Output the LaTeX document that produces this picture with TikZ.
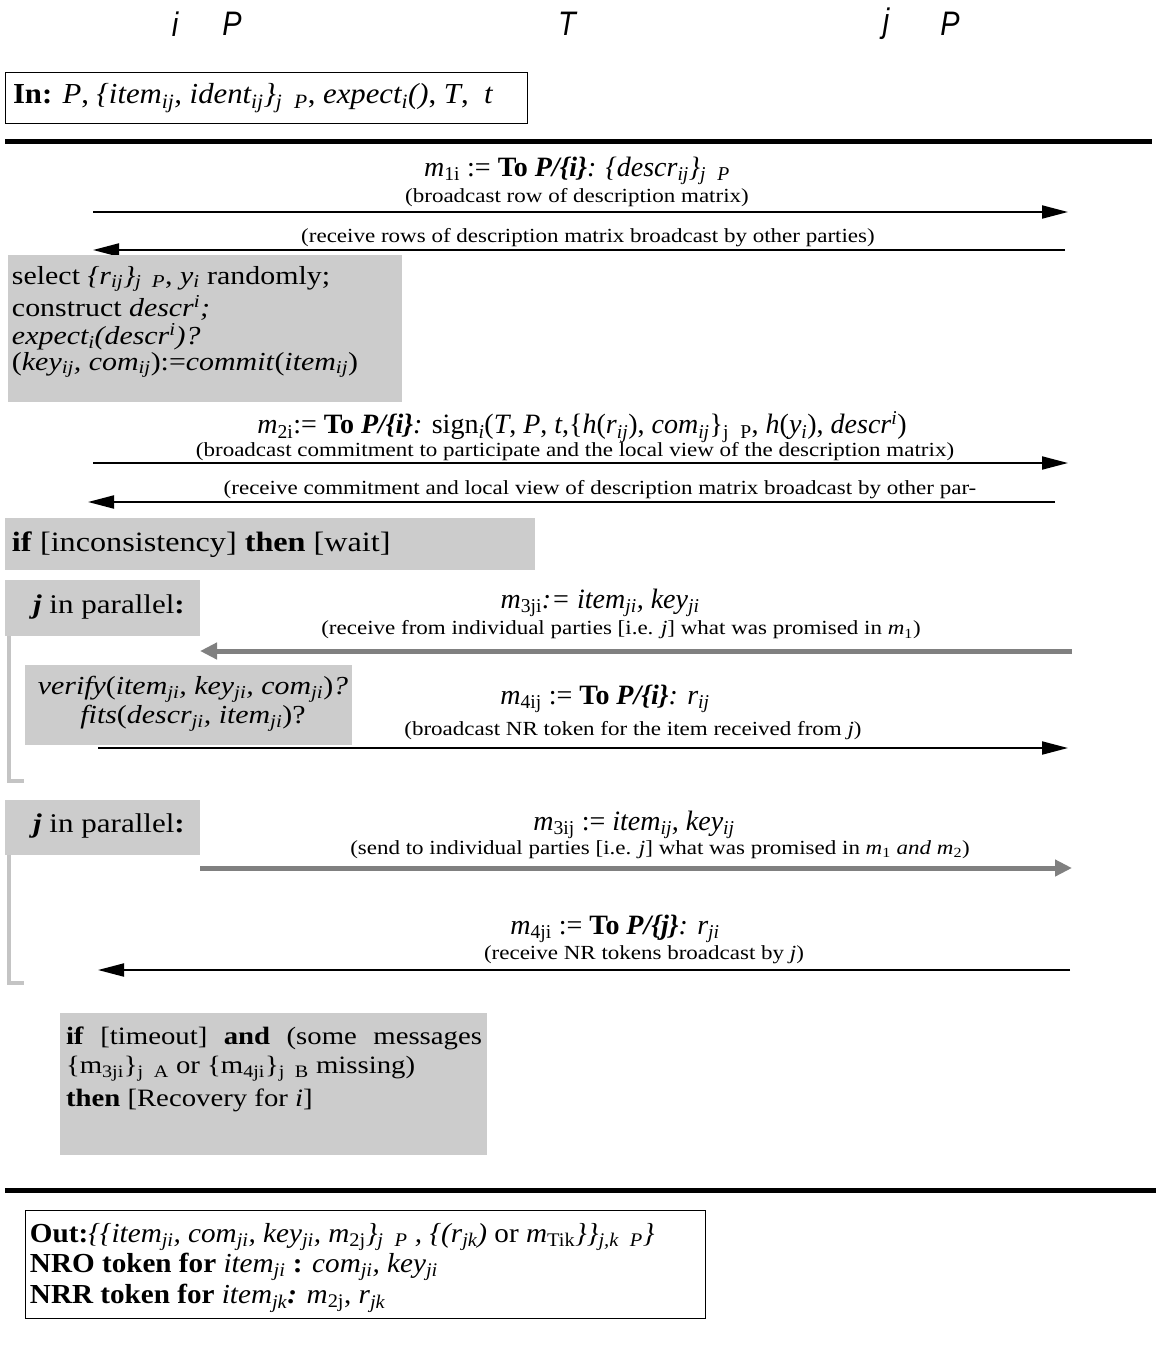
\documentclass[tikz,border=0pt]{standalone}
\usepackage{fontspec}
\setmainfont[FakeStretch=1.15]{Liberation Serif}
\newfontfamily\plainserif{Liberation Serif}
\newfontfamily\tallserif[FakeStretch=1.06]{Liberation Serif}
\newfontfamily\hdrfont[FakeStretch=0.85]{Liberation Sans}
\usetikzlibrary{arrows.meta}
\newcommand\lo[1]{\textsubscript{#1}}
\newcommand\hi[1]{\textsuperscript{#1}}
\newcommand\ingap{\hspace{0.6em}}
\definecolor{boxgrey}{HTML}{CCCCCC}
\definecolor{arrgrey}{HTML}{808080}
\definecolor{brgrey}{HTML}{C4C4C4}
\begin{document}
\begin{tikzpicture}[x=1pt,y=-1pt,
  txt/.style={inner sep=0pt, outer sep=0pt},
  hdr/.style={txt, font=\hdrfont\itshape\fontsize{34}{40}\selectfont},
  lbl/.style={txt, font=\plainserif\fontsize{28}{32}\selectfont},
  par/.style={txt, font=\fontsize{20}{24}\selectfont},
  body/.style={txt, font=\fontsize{26}{29}\selectfont, anchor=west},
  tall/.style={txt, font=\tallserif\fontsize{29}{30}\selectfont, anchor=west},
  outtxt/.style={txt, font=\tallserif\fontsize{27.5}{30}\selectfont, anchor=west},
  gbox/.style={fill=boxgrey, draw=none, inner sep=0pt},
  wbox/.style={draw=black, line width=1.3pt, fill=white, inner sep=0pt},
  blkarr/.style={line width=2pt, -{Triangle[length=26pt,width=13pt]}},
  gryarr/.style={line width=5pt, arrgrey, -{Triangle[length=17pt,width=16pt]}},
  bar/.style={line width=5pt},
  brk/.style={brgrey, line width=4pt}
]
\useasboundingbox (0,0) rectangle (1156,1353);

% header
\node[hdr] (hi) at (175,24) {i};
\node[hdr] (hp1) at (232,24) {P};
\node[hdr] (ht) at (567,24) {T};
\node[hdr] (hj) at (886,24) {j};
\node[hdr] (hp2) at (950,24) {P};

% In box
\node[wbox, minimum width=522pt, minimum height=51pt, anchor=north west] (inbox) at (5,72) {};
\node[tall] (intext) at (13,98) {\textbf{In:} \textit{P}, \textit{\{item\lo{ij}, ident\lo{ij}\}\lo{j\ingap P}}, \textit{expect\lo{i}()}, \textit{T}, \ \textit{t}};

% top bar
\coordinate (b1s) at (5,141);
\coordinate (b1e) at (1152,141);
\draw[bar] (b1s) -- (b1e);

% m1
\node[lbl] (m1) at (577,171) {\textit{m}\lo{1i} := \textbf{To} \textbf{\textit{P/\{i\}}}\textit{: \{descr\lo{ij}\}\lo{j\ingap P}}};
\node[par] (m1p) at (577,198) {(broadcast row of description matrix)};
\coordinate (a1s) at (93,212);
\coordinate (a1e) at (1068,212);
\draw[blkarr] (a1s) -- (a1e);
\node[par] (r1p) at (588,238) {(receive rows of description matrix broadcast by other parties)};
\coordinate (a2s) at (1065,250);
\coordinate (a2e) at (93,250);
\draw[blkarr] (a2s) -- (a2e);

% grey box 1
\node[gbox, minimum width=394pt, minimum height=147pt, anchor=north west] (g1) at (8,255) {};
\node[body] (g1a) at (12,279) {select \textit{\{r\lo{ij}\}\lo{j\ingap P}}, \textit{y\lo{i}} randomly;};
\node[body] (g1b) at (12,308) {construct \textit{descr\hi{i};}};
\node[body] (g1c) at (12,337) {\textit{expect\lo{i}(descr\hi{i})?}};
\node[body] (g1d) at (12,365) {(\textit{key\lo{ij}, com\lo{ij}}):=\textit{commit}(\textit{item\lo{ij}})};

% m2
\node[lbl] (m2) at (582,427) {\textit{m}\lo{2i}:= \textbf{To} \textbf{\textit{P/\{i\}}}\textit{:} sign\lo{\textit{i}}(\textit{T}, \textit{P}, \textit{t},\{\textit{h}(\textit{r\lo{ij}}), \textit{com\lo{ij}}\}\lo{j\ingap P}, \textit{h}(\textit{y\lo{i}}), \textit{descr\hi{i}})};
\node[par] (m2p) at (575,452) {(broadcast commitment to participate and the local view of the description matrix)};
\coordinate (a3s) at (93,463);
\coordinate (a3e) at (1068,463);
\draw[blkarr] (a3s) -- (a3e);
\node[par] (r2p) at (600,490) {(receive commitment and local view of description matrix broadcast by other par-};
\coordinate (a4s) at (1055,502);
\coordinate (a4e) at (88,502);
\draw[blkarr] (a4s) -- (a4e);

% inconsistency
\node[gbox, minimum width=530pt, minimum height=52pt, anchor=north west] (g2) at (5,518) {};
\node[body, font=\fontsize{28}{32}\selectfont] (g2t) at (12,545) {\textbf{if} [inconsistency] \textbf{then} [wait]};

% parallel block 1
\node[gbox, minimum width=195pt, minimum height=56pt, anchor=north west] (p1) at (5,580) {};
\node[body, font=\fontsize{27}{32}\selectfont] (p1t) at (33,607) {\textbf{\textit{j}} in parallel\textbf{:}};
\coordinate (k1s) at (9,636);
\coordinate (k1m) at (9,781);
\coordinate (k1e) at (24,781);
\draw[brk] (k1s) -- (k1m) -- (k1e);

\node[lbl] (m3a) at (600,603) {\textit{m}\lo{3ji}\textit{:= item\lo{ji}, key\lo{ji}}};
\node[par] (m3ap) at (621,630) {(receive from individual parties [i.e. \textit{j}] what was promised in \textit{m}\lo{1})};
\coordinate (g1s) at (1072,651);
\coordinate (g1e) at (200,651);
\draw[gryarr] (g1s) -- (g1e);

\node[gbox, minimum width=327pt, minimum height=80pt, anchor=north west] (vb) at (25,665) {};
\node[txt, font=\fontsize{26}{29}\selectfont] (vba) at (193,689) {\textit{verify}(\textit{item\lo{ji}, key\lo{ji}, com\lo{ji}})\textit{?}};
\node[txt, font=\fontsize{26}{29}\selectfont] (vbb) at (193,718) {\textit{fits}(\textit{descr\lo{ji}, item\lo{ji}})?};

\node[lbl] (m4a) at (605,699) {\textit{m}\lo{4ij} := \textbf{To} \textbf{\textit{P/\{i\}}}\textit{: r\lo{ij}}};
\node[par] (m4ap) at (633,731) {(broadcast NR token for the item received from \textit{j})};
\coordinate (a5s) at (98,748);
\coordinate (a5e) at (1068,748);
\draw[blkarr] (a5s) -- (a5e);

% parallel block 2
\node[gbox, minimum width=195pt, minimum height=55pt, anchor=north west] (p2) at (5,800) {};
\node[body, font=\fontsize{27}{32}\selectfont] (p2t) at (33,826) {\textbf{\textit{j}} in parallel\textbf{:}};
\coordinate (k2s) at (9,855);
\coordinate (k2m) at (9,983);
\coordinate (k2e) at (24,983);
\draw[brk] (k2s) -- (k2m) -- (k2e);

\node[lbl] (m3b) at (634,825) {\textit{m}\lo{3ij} := \textit{item\lo{ij}, key\lo{ij}}};
\node[par] (m3bp) at (660,850) {(send to individual parties [i.e. \textit{j}] what was promised in \textit{m}\lo{1} \textit{and m}\lo{2})};
\coordinate (g2s) at (200,868);
\coordinate (g2e) at (1072,868);
\draw[gryarr] (g2s) -- (g2e);

\node[lbl] (m4b) at (615,929) {\textit{m}\lo{4ji} := \textbf{To} \textbf{\textit{P/\{j\}}}\textit{: r\lo{ji}}};
\node[par] (m4bp) at (644,955) {(receive NR tokens broadcast by \textit{j})};
\coordinate (a6s) at (1070,970);
\coordinate (a6e) at (98,970);
\draw[blkarr] (a6s) -- (a6e);

% timeout
\node[gbox, minimum width=427pt, minimum height=142pt, anchor=north west] (tb) at (60,1013) {};
\node[body, font=\fontsize{25}{29}\selectfont] (tba) at (66,1038) {\makebox[416pt][s]{\textbf{if} [timeout] \textbf{and} (some messages}};
\node[body, font=\fontsize{25}{29}\selectfont] (tbb) at (66,1069) {\{m\lo{3ji}\}\lo{j\ingap A} or \{m\lo{4ji}\}\lo{j\ingap B} missing)};
\node[body, font=\fontsize{25}{29}\selectfont] (tbc) at (66,1100) {\textbf{then} [Recovery for \textit{i}]};

% bottom bar
\coordinate (b2s) at (5,1190);
\coordinate (b2e) at (1156,1190);
\draw[bar] (b2s) -- (b2e);

% Out box
\node[wbox, minimum width=680pt, minimum height=108pt, anchor=north west] (outbox) at (25,1210) {};
\node[outtxt] (oa) at (30,1237) {\textbf{Out:}\textit{\{\{item\lo{ji}, com\lo{ji}, key\lo{ji}, m}\lo{2j}\textit{\}\lo{j\ingap P} , \{(r\lo{jk}) }or \textit{m}\lo{Tik}\textit{\}\}\lo{j,k\ingap P}\}}};
\node[outtxt] (ob) at (30,1267) {\textbf{NRO token for} \textit{item\lo{ji}} \textbf{:} \textit{com\lo{ji}, key\lo{ji}}};
\node[outtxt] (oc) at (30,1298) {\textbf{NRR token for} \textit{item\lo{jk}}\textbf{\textit{:}} \textit{m}\lo{2j}, \textit{r\lo{jk}}};
\end{tikzpicture}
\end{document}
